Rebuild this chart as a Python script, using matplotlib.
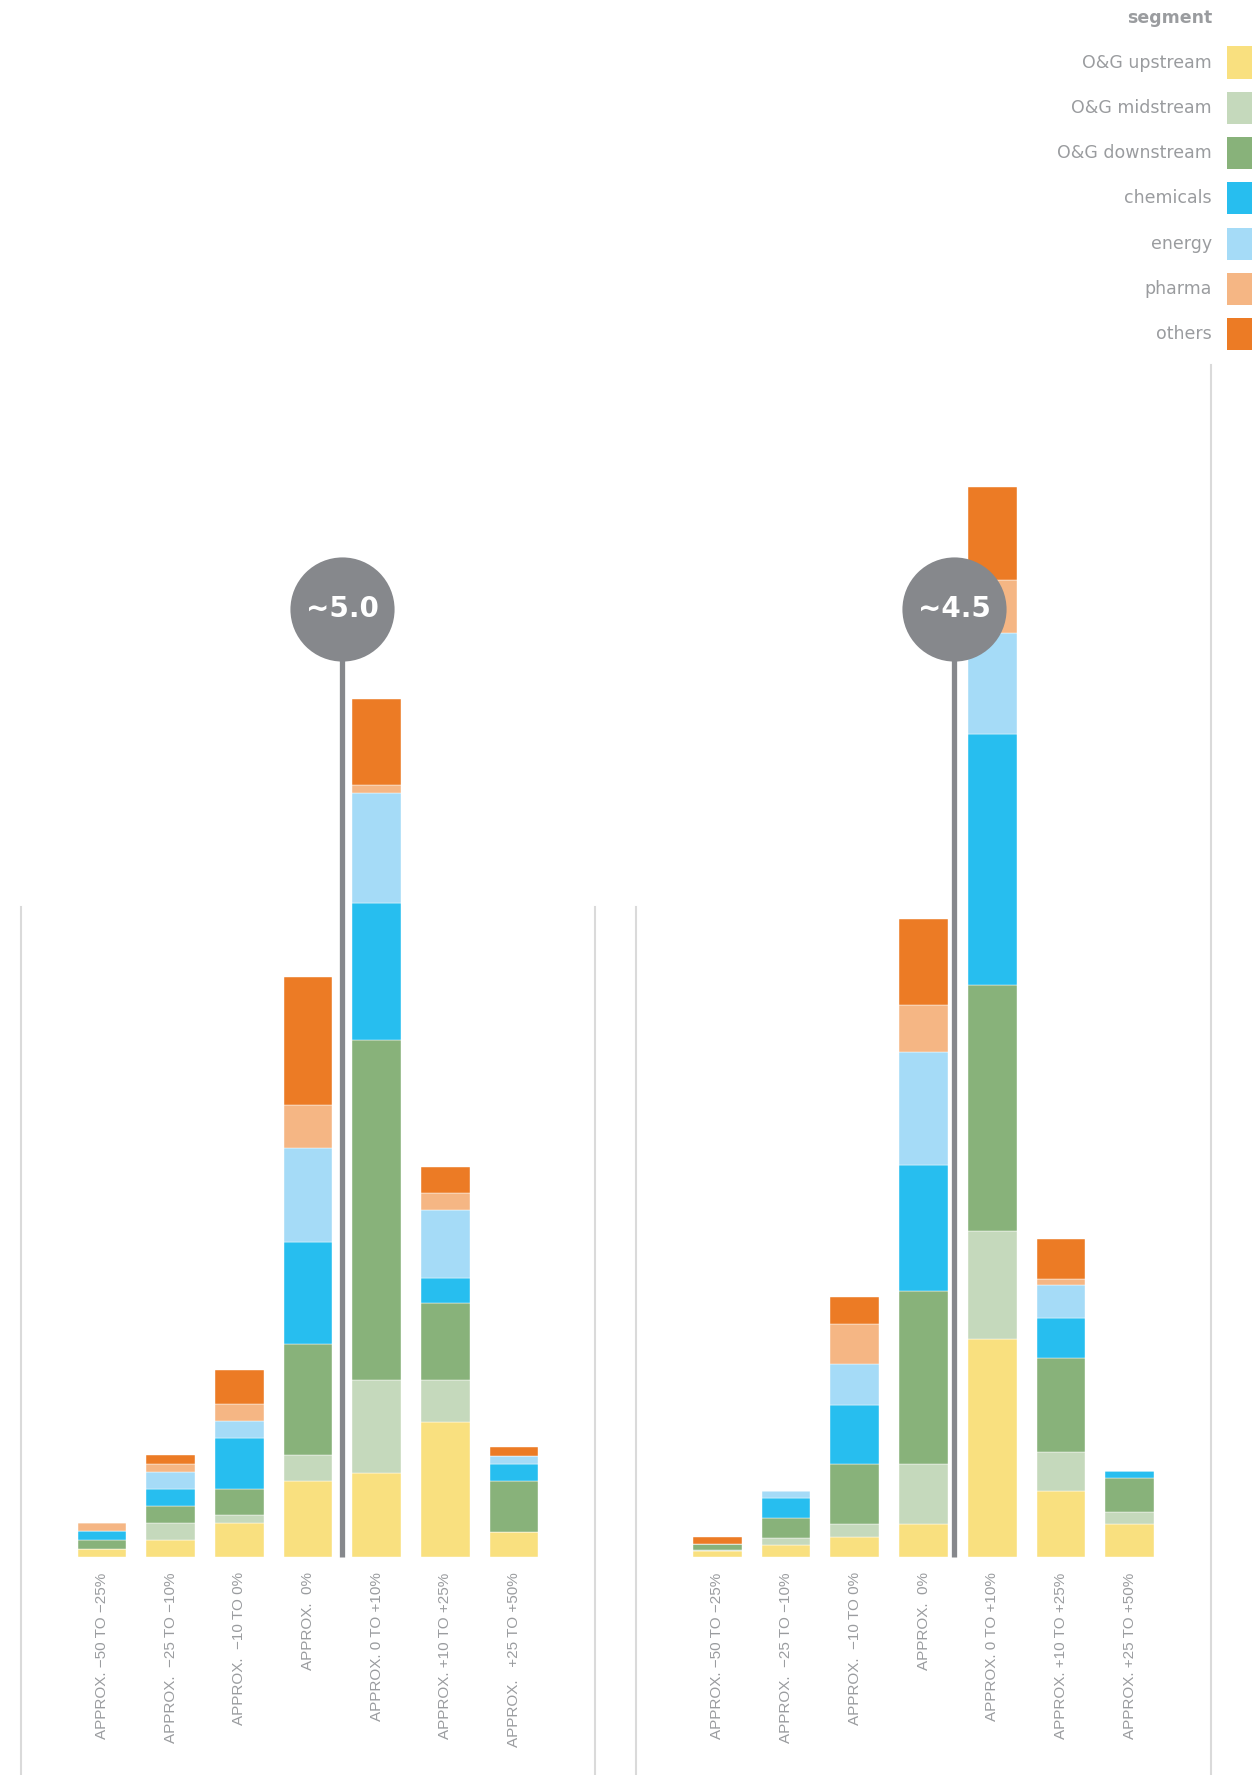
import matplotlib.pyplot as plt
from matplotlib.patches import Rectangle
import numpy as np

# ranges shown on the x axis of each panel
left_labels = ["APPROX. \u221250 TO \u221225%", "APPROX.  \u221225 TO \u221210%", "APPROX.  \u221210 TO 0%",
               "APPROX.  0%", "APPROX. 0 TO +10%", "APPROX. +10 TO +25%", "APPROX.   +25 TO +50%"]
right_labels = ["APPROX. \u221250 TO \u221225%", "APPROX.  \u221225 TO \u221210%", "APPROX.  \u221210 TO 0%",
                "APPROX.  0%", "APPROX. 0 TO +10%", "APPROX. +10 TO +25%", "APPROX. +25 TO +50%"]

segments = ["O&G upstream", "O&G midstream", "O&G downstream", "chemicals", "energy", "pharma", "others"]
colors = ["#F9E07F", "#C5D9BC", "#88B27A", "#27BEEF", "#A5DBF7", "#F5B684", "#EC7B25"]

# stacked values per segment, left panel
left_upstream = [0.083, 0.17, 0.34, 0.76, 0.84, 1.35, 0.25]
left_midstream = [0.0, 0.17, 0.08, 0.26, 0.93, 0.42, 0.0]
left_downstream = [0.087, 0.17, 0.26, 1.11, 3.40, 0.77, 0.51]
left_chemicals = [0.087, 0.17, 0.51, 1.02, 1.37, 0.25, 0.17]
left_energy = [0.0, 0.17, 0.17, 0.94, 1.10, 0.68, 0.085]
left_pharma = [0.083, 0.083, 0.17, 0.43, 0.085, 0.17, 0.0]
left_others = [0.0, 0.09, 0.34, 1.28, 0.855, 0.26, 0.085]

# stacked values per segment, right panel
right_upstream = [0.057, 0.125, 0.20, 0.33, 2.185, 0.657, 0.328]
right_midstream = [0.017, 0.07, 0.13, 0.60, 1.075, 0.396, 0.125]
right_downstream = [0.053, 0.20, 0.60, 1.73, 2.456, 0.94, 0.34]
right_chemicals = [0.0, 0.195, 0.59, 1.26, 2.513, 0.396, 0.068]
right_energy = [0.0, 0.07, 0.41, 1.13, 1.007, 0.328, 0.0]
right_pharma = [0.0, 0.0, 0.40, 0.467, 0.532, 0.068, 0.0]
right_others = [0.07, 0.0, 0.27, 0.863, 0.928, 0.396, 0.0]

# average change marked by the bubbles
averages = [5.0, 4.5]
bubble_texts = ["~5.0", "~4.5"]

left_data = [left_upstream, left_midstream, left_downstream, left_chemicals,
             left_energy, left_pharma, left_others]
right_data = [right_upstream, right_midstream, right_downstream, right_chemicals,
              right_energy, right_pharma, right_others]

gray_text = "#9a9c9f"
bubble_gray = "#86888C"
line_gray = "#DADADA"

fig = plt.figure(figsize=(12.52, 17.75), dpi=100)

W, H = 1252, 1775
bottom = (H - 1557) / H
height = 1192 / H
ax_left = fig.add_axes([21 / W, bottom, 574 / W, height])
ax_right = fig.add_axes([636 / W, bottom, 575 / W, height])


def draw_panel(ax, data, labels, avg, text, right_top):
    x = np.arange(len(labels))
    base = np.zeros(len(labels))
    for vals, col in zip(data, colors):
        ax.bar(x, vals, 0.71, bottom=base, color=col, edgecolor="white", linewidth=0.3, zorder=2)
        base += np.array(vals)
    ax.set_xlim(-1.18, 7.18)
    ax.set_ylim(0, 11.92)
    for s in ax.spines.values():
        s.set_visible(False)
    ax.set_yticks([])
    ax.set_xticks(x)
    ax.set_xticklabels(labels, rotation=90, fontsize=11, color=gray_text, family="Liberation Sans")
    ax.tick_params(axis="x", length=0, pad=11)

    # panel borders
    ax.axvline(-1.18, ymin=-0.19, ymax=0.545, color=line_gray, lw=1.5, clip_on=False)
    ax.axvline(7.18, ymin=-0.19, ymax=right_top, color=line_gray, lw=1.5, clip_on=False)

    # average marker: stem plus bubble
    bx = 3 + avg / 10
    by = 9.48
    ax.plot([bx, bx], [0, by], color=bubble_gray, lw=3.8, zorder=3, clip_on=False, solid_capstyle="butt")
    ax.plot(bx, by, "o", markersize=75, color=bubble_gray, markeredgewidth=0,
            zorder=4, clip_on=False)
    ax.text(bx, by, text, ha="center", va="center", color="white", fontsize=20,
            fontweight="bold", zorder=5)


draw_panel(ax_left, left_data, left_labels, averages[0], bubble_texts[0], 0.545)
draw_panel(ax_right, right_data, right_labels, averages[1], bubble_texts[1], 1.0)

# legend in the top right corner
fig.text(1212 / W, 1 - 18 / H, "segment", ha="right", va="center", fontsize=12.5,
         fontweight="bold", color=gray_text)
for i, (name, col) in enumerate(zip(segments, colors)):
    yc = 62.5 + i * 45.3
    fig.text(1212 / W, 1 - yc / H, name, ha="right", va="center", fontsize=12.5, color=gray_text)
    fig.add_artist(Rectangle((1227 / W, 1 - (yc + 16) / H), 40 / W, 32 / H,
                             transform=fig.transFigure, color=col, lw=0))

fig.savefig("out.png", dpi=100, facecolor="white")
